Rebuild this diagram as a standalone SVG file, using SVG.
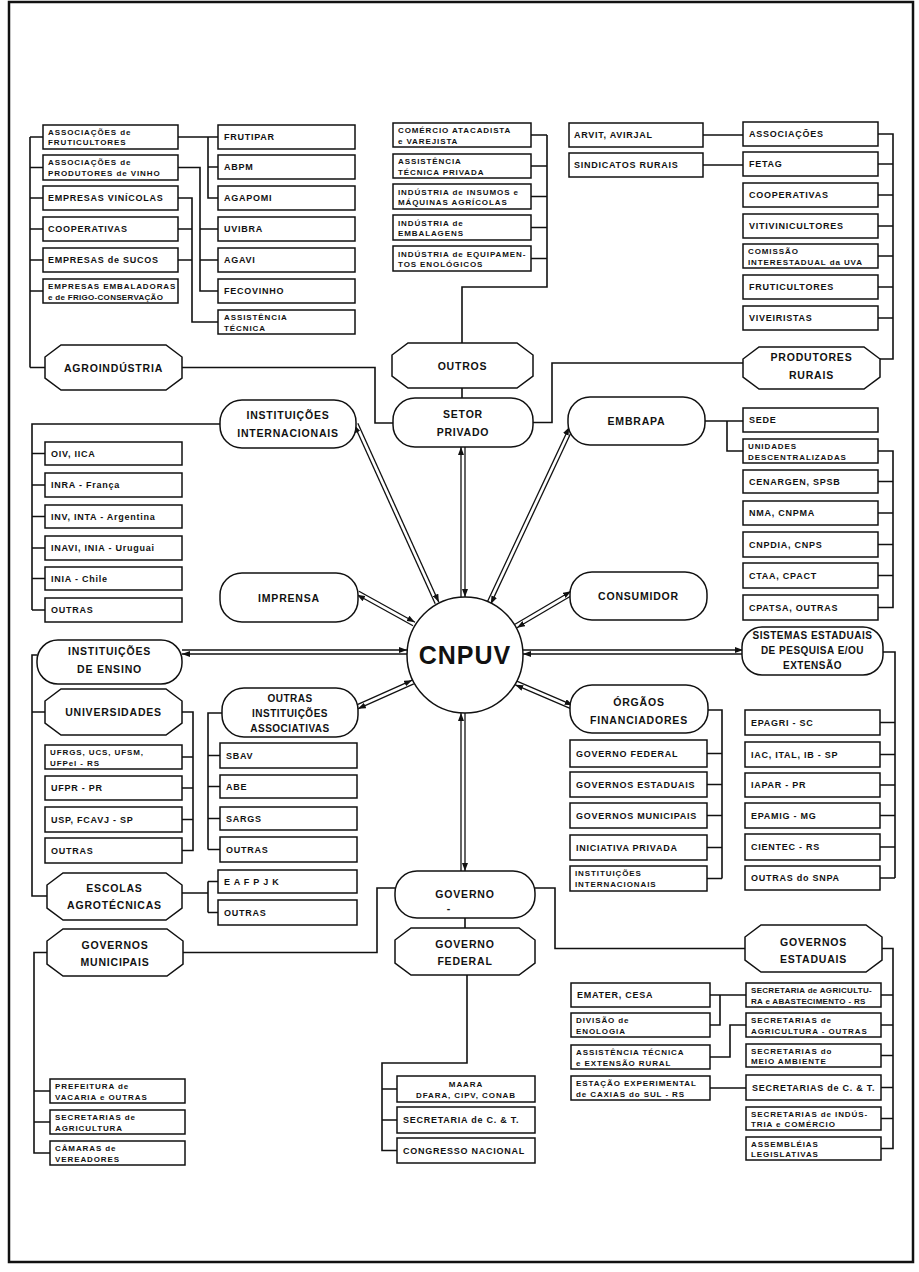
<svg xmlns="http://www.w3.org/2000/svg" width="919" height="1272" viewBox="0 0 919 1272">
<defs>
<style>
.b{fill:#fff;stroke:#111;stroke-width:1.5}
.c{fill:none;stroke:#111;stroke-width:1.6}
.a{fill:none;stroke:#111;stroke-width:1.3;marker-end:url(#ah)}
text{font-family:"Liberation Sans",Arial,Helvetica,sans-serif;font-weight:bold;fill:#111}
.t{font-size:9px;letter-spacing:.75px}
.s{font-size:8px;letter-spacing:.9px}
.n{letter-spacing:.3px}
.h{font-size:10.5px;letter-spacing:.8px;text-anchor:middle}
.h3{font-size:10px;letter-spacing:.5px;text-anchor:middle}
.m{text-anchor:middle}
</style>
<marker id="ah" markerWidth="8" markerHeight="6" refX="8" refY="3" orient="auto" markerUnits="userSpaceOnUse"><path d="M0,0 L8,3 L0,6 Z" fill="#111"/></marker>
</defs>
<rect x="0" y="0" width="919" height="1272" fill="#fff"/>
<rect x="9" y="2" width="904" height="1260" fill="none" stroke="#111" stroke-width="2.5"/>

<g id="connectors">
<!-- agroindustria -->
<path class="c" d="M30,137 V367.5 M30,137 H43 M30,167.5 H43 M30,198 H43 M30,229 H43 M30,260 H43 M30,291 H43 M30,367.5 H45"/>
<path class="c" d="M178,137 H218 M208,137 V198 H218 M208,167 H218"/>
<path class="c" d="M178,167.5 H200 V291 H218 M200,229 H218 M200,260 H218"/>
<path class="c" d="M178,198 H192 V322 H218 M178,229 H192 M178,260 H192"/>
<path class="c" d="M182,367.5 H375 V423 H393"/>
<!-- outros -->
<path class="c" d="M462,343 V287 H547 V135 M531,135 H547 M531,166 H547 M531,196.5 H547 M531,227.5 H547 M531,258.5 H547 M462,388 V398"/>
<!-- produtores -->
<path class="c" d="M703,135 H743 M703,165 H743 M878,134 H893 V359 H880 M878,164 H893 M878,195 H893 M878,226 H893 M878,256 H893 M878,287 H893 M878,318 H893"/>
<path class="c" d="M743,363 H552 V422.5 H533"/>
<!-- internacionais -->
<path class="c" d="M220,424 H32 V610 M32,453.5 H45 M32,485 H45 M32,516.5 H45 M32,548 H45 M32,578.5 H45 M32,610 H45"/>
<!-- embrapa -->
<path class="c" d="M705,421 H743 M727,421 V451 H743 M878,451 H893 V607.5 H878 M878,481.5 H893 M878,513 H893 M878,544.5 H893 M878,575.5 H893"/>
<!-- ensino -->
<path class="c" d="M37,655 H32 V896 H47 M32,712 H45 M182,712 H193 V850.5 H182 M182,757 H193 M182,788 H193 M182,819.5 H193"/>
<path class="c" d="M182,893 H208 M208,881.5 V912.5 M208,881.5 H218 M208,912.5 H218"/>
<path class="c" d="M222,713 H208 V849.5 M208,755.5 H220 M208,786.5 H220 M208,818.5 H220 M208,849.5 H220"/>
<!-- sistemas -->
<path class="c" d="M883,652 H895 V878 M880,722.5 H895 M880,754.5 H895 M880,785 H895 M880,815.5 H895 M880,847 H895 M880,878 H895"/>
<!-- orgaos -->
<path class="c" d="M708,710 H722 V878.5 M707,753.5 H722 M707,784.5 H722 M707,815.5 H722 M707,847.5 H722 M707,878.5 H722"/>
<!-- governo -->
<path class="c" d="M395,888 H377 V952.5 H183 M535,888 H555 V948.5 H745 M465,918 V928"/>
<path class="c" d="M467,975 V1063 H382 V1150.5 H397 M382,1089 H397 M382,1120 H397"/>
<path class="c" d="M47,952.5 H34 V1153 H50 M34,1091 H50 M34,1122 H50"/>
<path class="c" d="M882,948.5 H893 V1148.5 H881 M881,995 H893 M881,1025 H893 M881,1055.5 H893 M881,1087.5 H893 M881,1118.5 H893"/>
<path class="c" d="M710,995 H746 M710,1025 H720 V995 M710,1057 H730 V1025 H746 M710,1088 H746"/>
<!-- double arrows to CNPUV -->
<g transform="translate(356,424) rotate(65.65)"><line class="a" x1="0" y1="-2" x2="196.5" y2="-2"/><line class="a" x1="196.5" y1="2" x2="0" y2="2"/></g>
<g transform="translate(463,447) rotate(90)"><line class="a" x1="0" y1="-2" x2="150" y2="-2"/><line class="a" x1="150" y1="2" x2="0" y2="2"/></g>
<g transform="translate(571,428) rotate(115.1)"><line class="a" x1="0" y1="-2" x2="193.3" y2="-2"/><line class="a" x1="193.3" y1="2" x2="0" y2="2"/></g>
<g transform="translate(358,593) rotate(28.97)"><line class="a" x1="0" y1="-2" x2="64" y2="-2"/><line class="a" x1="64" y1="2" x2="0" y2="2"/></g>
<g transform="translate(572,593) rotate(149.5)"><line class="a" x1="0" y1="-2" x2="65" y2="-2"/><line class="a" x1="65" y1="2" x2="0" y2="2"/></g>
<g transform="translate(182,652)"><line class="a" x1="0" y1="-2" x2="225" y2="-2"/><line class="a" x1="225" y1="2" x2="0" y2="2"/></g>
<g transform="translate(743,652) rotate(180)"><line class="a" x1="0" y1="-2" x2="220" y2="-2"/><line class="a" x1="220" y1="2" x2="0" y2="2"/></g>
<g transform="translate(357,707) rotate(-24.06)"><line class="a" x1="0" y1="-2" x2="61.3" y2="-2"/><line class="a" x1="61.3" y1="2" x2="0" y2="2"/></g>
<g transform="translate(572,707) rotate(-156.8)"><line class="a" x1="0" y1="-2" x2="60.9" y2="-2"/><line class="a" x1="60.9" y1="2" x2="0" y2="2"/></g>
<g transform="translate(463,713) rotate(90)"><line class="a" x1="0" y1="-2" x2="158" y2="-2"/><line class="a" x1="158" y1="2" x2="0" y2="2"/></g>
</g>

<!-- CENTER -->
<g id="cnpuv"><circle class="b" cx="465" cy="655" r="58"/><text x="465" y="664" class="m" font-size="25" letter-spacing="1">CNPUV</text></g>

<!-- AGROINDUSTRIA -->
<g id="assoc-fruticultores"><rect class="b" x="43" y="125" width="135" height="24"/><text class="s" x="48" y="135">ASSOCIAÇÕES de</text><text class="s" x="48" y="145">FRUTICULTORES</text></g>
<g id="assoc-vinho"><rect class="b" x="43" y="155" width="135" height="25"/><text class="s" x="48" y="165">ASSOCIAÇÕES de</text><text class="s" x="48" y="176">PRODUTORES de VINHO</text></g>
<g id="empresas-vinicolas"><rect class="b" x="43" y="186" width="135" height="24"/><text class="t" x="48" y="201.3">EMPRESAS VINÍCOLAS</text></g>
<g id="cooperativas-a"><rect class="b" x="43" y="217" width="135" height="24"/><text class="t" x="48" y="232.3">COOPERATIVAS</text></g>
<g id="empresas-sucos"><rect class="b" x="43" y="248" width="135" height="24"/><text class="t" x="48" y="263.3">EMPRESAS de SUCOS</text></g>
<g id="empresas-embaladoras"><rect class="b" x="43" y="279" width="135" height="24"/><text class="s" x="48" y="289">EMPRESAS EMBALADORAS</text><text class="s n" x="48" y="299.5">e de FRIGO-CONSERVAÇÃO</text></g>
<g id="frutipar"><rect class="b" x="218" y="125" width="137" height="24"/><text class="t" x="224" y="140.3">FRUTIPAR</text></g>
<g id="abpm"><rect class="b" x="218" y="155" width="137" height="24"/><text class="t" x="224" y="170.3">ABPM</text></g>
<g id="agapomi"><rect class="b" x="218" y="186" width="137" height="24"/><text class="t" x="224" y="201.3">AGAPOMI</text></g>
<g id="uvibra"><rect class="b" x="218" y="217" width="137" height="24"/><text class="t" x="224" y="232.3">UVIBRA</text></g>
<g id="agavi"><rect class="b" x="218" y="248" width="137" height="24"/><text class="t" x="224" y="263.3">AGAVI</text></g>
<g id="fecovinho"><rect class="b" x="218" y="279" width="137" height="24"/><text class="t" x="224" y="294.3">FECOVINHO</text></g>
<g id="assist-tecnica"><rect class="b" x="218" y="310" width="137" height="24"/><text class="s" x="224" y="320">ASSISTÊNCIA</text><text class="s" x="224" y="330.5">TÉCNICA</text></g>
<g id="agroindustria"><path class="b" d="M61,345 H166 L182,357 V378 L166,390 H61 L45,378 V357 Z"/><text class="h" x="113.5" y="371.5">AGROINDÚSTRIA</text></g>

<!-- OUTROS -->
<g id="comercio"><rect class="b" x="393" y="123" width="138" height="24"/><text class="s" x="398" y="133">COMÉRCIO ATACADISTA</text><text class="s" x="398" y="143.5">e VAREJISTA</text></g>
<g id="assist-privada"><rect class="b" x="393" y="154" width="138" height="24"/><text class="s" x="398" y="164">ASSISTÊNCIA</text><text class="s" x="398" y="174.5">TÉCNICA PRIVADA</text></g>
<g id="insumos"><rect class="b" x="393" y="184" width="138" height="25"/><text class="s" x="398" y="194.5">INDÚSTRIA de INSUMOS e</text><text class="s" x="398" y="205">MÁQUINAS AGRÍCOLAS</text></g>
<g id="embalagens"><rect class="b" x="393" y="215" width="138" height="25"/><text class="s" x="398" y="225.5">INDÚSTRIA de</text><text class="s" x="398" y="236">EMBALAGENS</text></g>
<g id="equipamentos"><rect class="b" x="393" y="246" width="138" height="25"/><text class="s" x="398" y="256.5">INDÚSTRIA de EQUIPAMEN-</text><text class="s" x="398" y="267">TOS ENOLÓGICOS</text></g>
<g id="outros"><path class="b" d="M408,343 H517 L533,355 V376 L517,388 H408 L392,376 V355 Z"/><text class="h" x="462.5" y="369.5">OUTROS</text></g>
<g id="setor-privado"><rect class="b" x="393" y="398" width="140" height="49" rx="22"/><text class="h" x="463" y="417.5">SETOR</text><text class="h" x="463" y="435.5">PRIVADO</text></g>

<!-- PRODUTORES -->
<g id="arvit"><rect class="b" x="569" y="123" width="134" height="24"/><text class="t" x="574" y="138.3">ARVIT, AVIRJAL</text></g>
<g id="sindicatos"><rect class="b" x="569" y="153" width="134" height="24"/><text class="t" x="574" y="168.3">SINDICATOS RURAIS</text></g>
<g id="associacoes"><rect class="b" x="743" y="122" width="135" height="24"/><text class="t" x="749" y="137.3">ASSOCIAÇÕES</text></g>
<g id="fetag"><rect class="b" x="743" y="152" width="135" height="24"/><text class="t" x="749" y="167.3">FETAG</text></g>
<g id="cooperativas-p"><rect class="b" x="743" y="183" width="135" height="24"/><text class="t" x="749" y="198.3">COOPERATIVAS</text></g>
<g id="vitivinicultores"><rect class="b" x="743" y="214" width="135" height="24"/><text class="t" x="749" y="229.3">VITIVINICULTORES</text></g>
<g id="comissao"><rect class="b" x="743" y="244" width="135" height="24"/><text class="s" x="748" y="254">COMISSÃO</text><text class="s" x="748" y="264.5">INTERESTADUAL da UVA</text></g>
<g id="fruticultores"><rect class="b" x="743" y="275" width="135" height="24"/><text class="t" x="749" y="290.3">FRUTICULTORES</text></g>
<g id="viveiristas"><rect class="b" x="743" y="306" width="135" height="24"/><text class="t" x="749" y="321.3">VIVEIRISTAS</text></g>
<g id="produtores-rurais"><path class="b" d="M759,347 H864 L880,359 V377 L864,389 H759 L743,377 V359 Z"/><text class="h" x="811.5" y="361">PRODUTORES</text><text class="h" x="811.5" y="379">RURAIS</text></g>

<!-- INTERNACIONAIS -->
<g id="inst-internacionais"><rect class="b" x="220" y="400" width="136" height="48" rx="22"/><text class="h" x="288" y="419">INSTITUIÇÕES</text><text class="h" x="288" y="437">INTERNACIONAIS</text></g>
<g id="oiv"><rect class="b" x="45" y="442" width="137" height="23"/><text class="t" x="51" y="457">OIV, IICA</text></g>
<g id="inra"><rect class="b" x="45" y="473" width="137" height="24"/><text class="t" x="51" y="488.3">INRA - França</text></g>
<g id="inv"><rect class="b" x="45" y="505" width="137" height="23"/><text class="t" x="51" y="520">INV, INTA - Argentina</text></g>
<g id="inavi"><rect class="b" x="45" y="536" width="137" height="24"/><text class="t" x="51" y="551.3">INAVI, INIA - Uruguai</text></g>
<g id="inia"><rect class="b" x="45" y="567" width="137" height="23"/><text class="t" x="51" y="582">INIA - Chile</text></g>
<g id="outras-int"><rect class="b" x="45" y="598" width="137" height="24"/><text class="t" x="51" y="613.3">OUTRAS</text></g>

<!-- EMBRAPA -->
<g id="embrapa"><rect class="b" x="568" y="397" width="137" height="48" rx="22"/><text class="h" x="636.5" y="425">EMBRAPA</text></g>
<g id="sede"><rect class="b" x="743" y="408" width="135" height="24"/><text class="t" x="749" y="423.3">SEDE</text></g>
<g id="unidades"><rect class="b" x="743" y="439" width="135" height="24"/><text class="s" x="748" y="449">UNIDADES</text><text class="s" x="748" y="459.5">DESCENTRALIZADAS</text></g>
<g id="cenargen"><rect class="b" x="743" y="470" width="135" height="23"/><text class="t" x="749" y="484.8">CENARGEN, SPSB</text></g>
<g id="nma"><rect class="b" x="743" y="501" width="135" height="24"/><text class="t" x="749" y="516.3">NMA, CNPMA</text></g>
<g id="cnpdia"><rect class="b" x="743" y="532" width="135" height="25"/><text class="t" x="749" y="547.8">CNPDIA, CNPS</text></g>
<g id="ctaa"><rect class="b" x="743" y="563" width="135" height="25"/><text class="t" x="749" y="578.8">CTAA, CPACT</text></g>
<g id="cpatsa"><rect class="b" x="743" y="595" width="135" height="25"/><text class="t" x="749" y="610.8">CPATSA, OUTRAS</text></g>

<g id="imprensa"><rect class="b" x="220" y="573" width="138" height="49" rx="22"/><text class="h" x="289" y="601.5">IMPRENSA</text></g>
<g id="consumidor"><rect class="b" x="570" y="572" width="137" height="48" rx="22"/><text class="h" x="638.5" y="600">CONSUMIDOR</text></g>

<!-- ENSINO -->
<g id="inst-ensino"><rect class="b" x="37" y="640" width="145" height="44" rx="21"/><text class="h" x="109.5" y="655">INSTITUIÇÕES</text><text class="h" x="109.5" y="673">DE ENSINO</text></g>
<g id="universidades"><path class="b" d="M61,689 H166 L182,701 V723 L166,735 H61 L45,723 V701 Z"/><text class="h" x="113.5" y="716">UNIVERSIDADES</text></g>
<g id="ufrgs"><rect class="b" x="45" y="745" width="137" height="24"/><text class="s" x="50" y="755">UFRGS, UCS, UFSM,</text><text class="s" x="50" y="765.5">UFPel - RS</text></g>
<g id="ufpr"><rect class="b" x="45" y="776" width="137" height="24"/><text class="t" x="51" y="791.3">UFPR - PR</text></g>
<g id="usp"><rect class="b" x="45" y="807" width="137" height="25"/><text class="t" x="51" y="822.8">USP, FCAVJ - SP</text></g>
<g id="outras-univ"><rect class="b" x="45" y="838" width="137" height="25"/><text class="t" x="51" y="853.8">OUTRAS</text></g>
<g id="escolas"><path class="b" d="M63,873 H166 L182,885 V908 L166,920 H63 L47,908 V885 Z"/><text class="h" x="114.5" y="892">ESCOLAS</text><text class="h" x="114.5" y="909">AGROTÉCNICAS</text></g>
<g id="eafpjk"><rect class="b" x="218" y="870" width="139" height="23"/><text class="t" x="224" y="885">E A F P J K</text></g>
<g id="outras-escolas"><rect class="b" x="218" y="900" width="139" height="25"/><text class="t" x="224" y="915.8">OUTRAS</text></g>

<g id="outras-inst-assoc"><rect class="b" x="222" y="688" width="136" height="49" rx="22"/><text class="h3" x="290" y="702">OUTRAS</text><text class="h3" x="290" y="717">INSTITUIÇÕES</text><text class="h3" x="290" y="732">ASSOCIATIVAS</text></g>
<g id="sbav"><rect class="b" x="220" y="743" width="137" height="25"/><text class="t" x="226" y="758.8">SBAV</text></g>
<g id="abe"><rect class="b" x="220" y="775" width="137" height="23"/><text class="t" x="226" y="789.8">ABE</text></g>
<g id="sargs"><rect class="b" x="220" y="807" width="137" height="23"/><text class="t" x="226" y="821.8">SARGS</text></g>
<g id="outras-assoc"><rect class="b" x="220" y="837" width="137" height="25"/><text class="t" x="226" y="852.8">OUTRAS</text></g>

<!-- SISTEMAS ESTADUAIS -->
<g id="sistemas-estaduais"><rect class="b" x="742" y="627" width="141" height="48" rx="20"/><text class="h3" x="812.5" y="639">SISTEMAS ESTADUAIS</text><text class="h3" x="812.5" y="654">DE PESQUISA E/OU</text><text class="h3" x="812.5" y="669">EXTENSÃO</text></g>
<g id="epagri"><rect class="b" x="745" y="710" width="135" height="25"/><text class="t" x="751" y="725.8">EPAGRI - SC</text></g>
<g id="iac"><rect class="b" x="745" y="742" width="135" height="25"/><text class="t" x="751" y="757.8">IAC, ITAL, IB - SP</text></g>
<g id="iapar"><rect class="b" x="745" y="773" width="135" height="24"/><text class="t" x="751" y="788.3">IAPAR - PR</text></g>
<g id="epamig"><rect class="b" x="745" y="803" width="135" height="25"/><text class="t" x="751" y="818.8">EPAMIG - MG</text></g>
<g id="cientec"><rect class="b" x="745" y="834" width="135" height="26"/><text class="t" x="751" y="850.3">CIENTEC - RS</text></g>
<g id="outras-snpa"><rect class="b" x="745" y="866" width="135" height="24"/><text class="t" x="751" y="881.3">OUTRAS do SNPA</text></g>

<!-- ORGAOS FINANCIADORES -->
<g id="orgaos"><rect class="b" x="570" y="685" width="138" height="48" rx="22"/><text class="h" x="639" y="706">ÓRGÃOS</text><text class="h" x="639" y="724">FINANCIADORES</text></g>
<g id="gov-federal-f"><rect class="b" x="570" y="740" width="137" height="27"/><text class="t" x="576" y="756.8">GOVERNO FEDERAL</text></g>
<g id="gov-estaduais-f"><rect class="b" x="570" y="772" width="137" height="25"/><text class="t" x="576" y="787.8">GOVERNOS ESTADUAIS</text></g>
<g id="gov-municipais-f"><rect class="b" x="570" y="803" width="137" height="25"/><text class="t" x="576" y="818.8">GOVERNOS MUNICIPAIS</text></g>
<g id="iniciativa"><rect class="b" x="570" y="835" width="137" height="25"/><text class="t" x="576" y="850.8">INICIATIVA PRIVADA</text></g>
<g id="inst-int-f"><rect class="b" x="570" y="866" width="137" height="25"/><text class="s" x="575" y="876">INSTITUIÇÕES</text><text class="s" x="575" y="886.5">INTERNACIONAIS</text></g>

<!-- GOVERNO -->
<g id="governo"><rect class="b" x="395" y="871" width="140" height="47" rx="22"/><text class="h" x="465" y="898">GOVERNO</text><text class="h" x="449" y="912" font-size="8">-</text></g>
<g id="gov-municipais"><path class="b" d="M63,929 H167 L183,941 V964 L167,976 H63 L47,964 V941 Z"/><text class="h" x="115" y="949">GOVERNOS</text><text class="h" x="115" y="966">MUNICIPAIS</text></g>
<g id="prefeitura"><rect class="b" x="50" y="1079" width="135" height="24"/><text class="s" x="55" y="1089">PREFEITURA de</text><text class="s" x="55" y="1099.5">VACARIA e OUTRAS</text></g>
<g id="secretarias-agric-m"><rect class="b" x="50" y="1110" width="135" height="24"/><text class="s" x="55" y="1120">SECRETARIAS de</text><text class="s" x="55" y="1130.5">AGRICULTURA</text></g>
<g id="camaras"><rect class="b" x="50" y="1141" width="135" height="24"/><text class="s" x="55" y="1151">CÂMARAS de</text><text class="s" x="55" y="1161.5">VEREADORES</text></g>

<g id="gov-federal"><path class="b" d="M411,928 H519 L535,940 V963 L519,975 H411 L395,963 V940 Z"/><text class="h" x="465" y="948">GOVERNO</text><text class="h" x="465" y="965">FEDERAL</text></g>
<g id="maara"><rect class="b" x="397" y="1076" width="138" height="26"/><text class="s m" x="466" y="1086.5">MAARA</text><text class="s m" x="466" y="1097.5">DFARA, CIPV, CONAB</text></g>
<g id="sec-ct-f"><rect class="b" x="397" y="1107" width="138" height="26"/><text class="t" x="403" y="1123.3">SECRETARIA de C. &amp; T.</text></g>
<g id="congresso"><rect class="b" x="397" y="1138" width="138" height="25"/><text class="t" x="403" y="1153.8">CONGRESSO NACIONAL</text></g>

<g id="gov-estaduais"><path class="b" d="M761,925 H866 L882,937 V960 L866,972 H761 L745,960 V937 Z"/><text class="h" x="813.5" y="946">GOVERNOS</text><text class="h" x="813.5" y="963">ESTADUAIS</text></g>
<g id="emater"><rect class="b" x="571" y="983" width="139" height="24"/><text class="t" x="577" y="998.3">EMATER, CESA</text></g>
<g id="divisao"><rect class="b" x="571" y="1013" width="139" height="24"/><text class="s" x="576" y="1023">DIVISÃO de</text><text class="s" x="576" y="1033.5">ENOLOGIA</text></g>
<g id="assist-extensao"><rect class="b" x="571" y="1045" width="139" height="24"/><text class="s" x="576" y="1055">ASSISTÊNCIA TÉCNICA</text><text class="s" x="576" y="1065.5">e EXTENSÃO RURAL</text></g>
<g id="estacao"><rect class="b" x="571" y="1076" width="139" height="24"/><text class="s" x="576" y="1086">ESTAÇÃO EXPERIMENTAL</text><text class="s" x="576" y="1096.5">de CAXIAS do SUL - RS</text></g>
<g id="sec-agric-rs"><rect class="b" x="746" y="983" width="135" height="24"/><text class="s n" x="751" y="993">SECRETARIA de AGRICULTU-</text><text class="s n" x="751" y="1003.5">RA e ABASTECIMENTO - RS</text></g>
<g id="sec-agric-outras"><rect class="b" x="746" y="1013" width="135" height="24"/><text class="s" x="751" y="1023">SECRETARIAS de</text><text class="s" x="751" y="1033.5">AGRICULTURA - OUTRAS</text></g>
<g id="sec-meio"><rect class="b" x="746" y="1044" width="135" height="23"/><text class="s" x="751" y="1054">SECRETARIAS do</text><text class="s" x="751" y="1064">MEIO AMBIENTE</text></g>
<g id="sec-ct-e"><rect class="b" x="746" y="1075" width="135" height="25"/><text class="t" x="752" y="1090.8">SECRETARIAS de C. &amp; T.</text></g>
<g id="sec-industria"><rect class="b" x="746" y="1107" width="135" height="23"/><text class="s" x="751" y="1117">SECRETARIAS de INDÚS-</text><text class="s" x="751" y="1127">TRIA e COMÉRCIO</text></g>
<g id="assembleias"><rect class="b" x="746" y="1137" width="135" height="23"/><text class="s" x="751" y="1147">ASSEMBLÉIAS</text><text class="s" x="751" y="1157">LEGISLATIVAS</text></g>
</svg>
